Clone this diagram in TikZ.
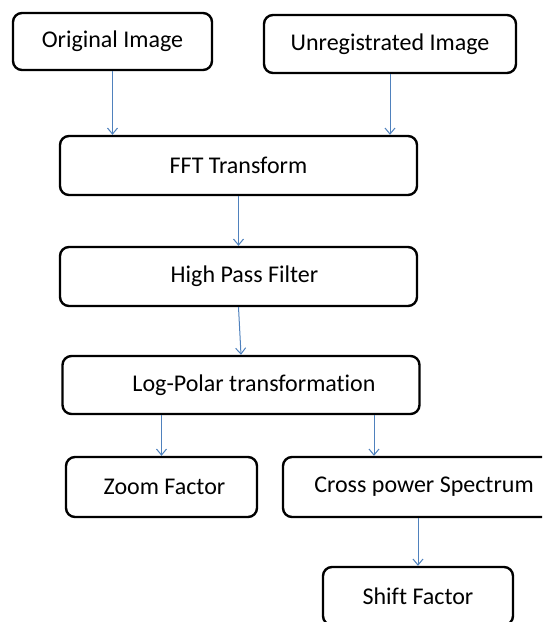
\documentclass[tikz,border=0pt]{standalone}
\usepackage{fontspec}
\setmainfont[Ligatures=NoCommon]{Carlito}
\usetikzlibrary{arrows.meta}
\definecolor{arrowblue}{RGB}{79,129,189}
\tikzset{
  box/.style={draw=black, line width=2.4pt, rounded corners=9pt, fill=white,
    inner sep=0pt, font=\fontsize{24}{28}\selectfont},
  conn/.style={draw=arrowblue, line width=1pt,
    -{Straight Barb[length=6pt,width=10pt,line width=1pt]}}
}
\begin{document}
\begin{tikzpicture}[x=1pt,y=-1pt]
\useasboundingbox (0,0) rectangle (542,622);
\clip (0,0) rectangle (542,622);
\node[box, minimum width=199pt, minimum height=57pt] (orig) at (112.5,41.5) {Original Image};
\node[box, minimum width=252pt, minimum height=58pt] (unreg) at (390,44) {Unregistrated Image};
\node[box, minimum width=357pt, minimum height=59pt] (fft) at (238.5,165.5) {FFT Transform};
\node[box, minimum width=357pt, minimum height=59pt] (hpf) at (238.5,276.5) {\hspace*{12pt}High Pass Filter};
\node[box, minimum width=357pt, minimum height=58pt] (lp) at (241,385) {\hspace*{26pt}Log-Polar transformation};
\node[box, minimum width=191pt, minimum height=60pt] (zoom) at (161.5,487) {\hspace*{6pt}Zoom Factor};
\node[box, minimum width=282pt, minimum height=60pt] (cross) at (424,487) {Cross power Spectrum};
\node[box, minimum width=190pt, minimum height=58pt] (shift) at (418,596) {Shift Factor};
\draw[conn] (orig.south) -- (orig.south |- fft.north);
\draw[conn] (unreg.south) -- (unreg.south |- fft.north);
\draw[conn] (fft.south) -- (fft.south |- hpf.north);
\draw[conn] (hpf.south) -- (lp.north);
\draw[conn] (lp.south -| zoom.north) -- (zoom.north);
\draw[conn] ([xshift=133pt]lp.south) -- ([xshift=133pt]lp.south |- cross.north);
\draw[conn] (cross.south -| shift.north) -- (shift.north);
\end{tikzpicture}
\end{document}
